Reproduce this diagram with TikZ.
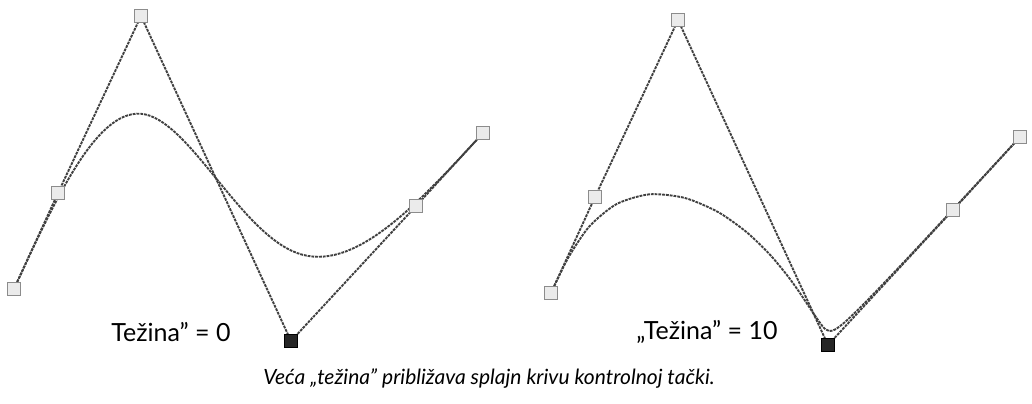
\documentclass[tikz,border=0pt]{standalone}
\usepackage{fontspec}
\setmainfont{Lato}
\usetikzlibrary{calc}

\tikzset{
  ctrl/.style={rectangle, draw=black!45, fill=black!8, line width=0.7pt, minimum size=6.5pt, inner sep=0pt},
  ctrlhit/.style={rectangle, draw=black, fill=black!85, line width=0.7pt, minimum size=6.5pt, inner sep=0pt},
  hull/.style={draw=black!75, line width=0.95pt, dash pattern=on 1.4pt off 0.5pt},
  spline/.style={draw=black!75, line width=0.95pt, dash pattern=on 1.4pt off 0.5pt},
  lbl/.style={font=\fontsize{12.5}{15}\selectfont, inner sep=0pt},
}

\begin{document}
\begin{tikzpicture}[x=0.5pt, y=-0.5pt]
  \useasboundingbox (0,0) rectangle (1032,403);

  % Left: weight 0 (plain cubic B-spline)
  \coordinate (a0) at (14,289);
  \coordinate (a1) at (58,193);
  \coordinate (a2) at (141,16);
  \coordinate (a3) at (291,341);
  \coordinate (a4) at (416,206);
  \coordinate (a5) at (483,133);
  \draw[hull] (a0) -- (a1) -- (a2) -- (a3) -- (a4) -- (a5);

  % Bezier points of the spline
  \coordinate (am) at ($(a1)!0.5!(a2)$);
  \coordinate (ab) at ($(a2)!1/3!(a3)$);
  \coordinate (ac) at ($(a2)!2/3!(a3)$);
  \coordinate (ad) at ($(a3)!0.5!(a4)$);
  \coordinate (aj) at ($(am)!0.5!(ab)$);
  \coordinate (ak) at ($(ac)!0.5!(ad)$);
  \draw[spline] (a0) .. controls (a1) and (am) .. (aj)
                     .. controls (ab) and (ac) .. (ak)
                     .. controls (ad) and (a4) .. (a5);

  \foreach \i in {0,1,2,4,5}
    \node[ctrl] (ca\i) at (a\i) {};
  \node[ctrlhit] (ca3) at (a3) {};

  % Right: weight 10 on the black point
  \begin{scope}[shift={(537,4)}]
    \coordinate (b0) at (14,289);
    \coordinate (b1) at (58,193);
    \coordinate (b2) at (141,16);
    \coordinate (b3) at (291,341);
    \coordinate (b4) at (416,206);
    \coordinate (b5) at (483,133);
    \draw[hull] (b0) -- (b1) -- (b2) -- (b3) -- (b4) -- (b5);

    \draw[spline] plot[smooth, tension=0.45] coordinates {
      (14,289) (31.2,253.8) (52.2,222.6) (79.5,200.1) (112.5,190.3)
      (147.7,193.9) (181.2,208.1) (209.8,228.3) (232.7,250.4) (249.9,271.0)
      (262.1,287.8) (276.9,310.1) (285.4,322.1) (288.7,325.4) (292,326.9)
      (295.8,326.5) (300.7,323.8) (307.9,318.1) (319.4,307.2) (339.2,287.2)
      (374.2,250.3) (430.8,189.5) (483,133)};

    \foreach \i in {0,1,2,4,5}
      \node[ctrl] (cb\i) at (b\i) {};
    \node[ctrlhit] (cb3) at (b3) {};
  \end{scope}

  % Labels
  \node[lbl] (lab0) at (171,332) {Težina” = 0};
  \node[lbl] (lab10) at (707,332) {„Težina” = 10};
  \node[lbl, font=\fontsize{10.5}{13}\selectfont\itshape] (caption) at (489,379)
    {Veća „težina” približava splajn krivu kontrolnoj tački.};
\end{tikzpicture}
\end{document}
